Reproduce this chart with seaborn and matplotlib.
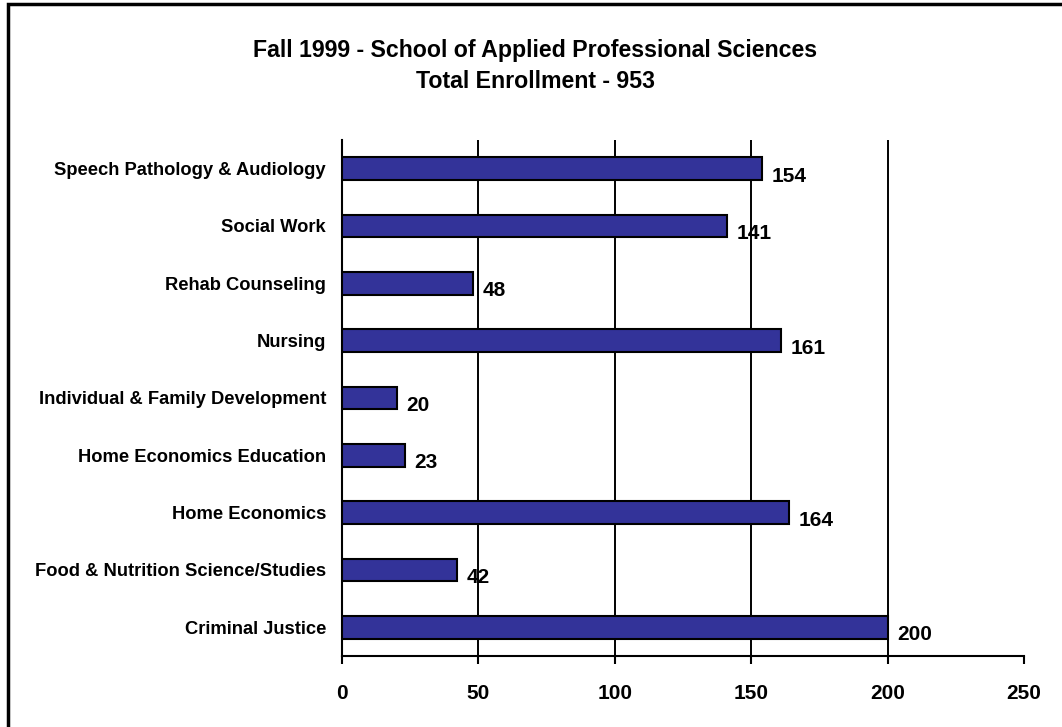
import matplotlib
matplotlib.use("Agg")
import matplotlib.pyplot as plt
import seaborn as sns
import pandas as pd
from matplotlib.patches import Rectangle

programs = [
    "Speech Pathology & Audiology",
    "Social Work",
    "Rehab Counseling",
    "Nursing",
    "Individual & Family Development",
    "Home Economics Education",
    "Home Economics",
    "Food & Nutrition Science/Studies",
    "Criminal Justice",
]
enrollment = [154, 141, 48, 161, 20, 23, 164, 42, 200]
x_ticks = [0, 50, 100, 150, 200, 250]
title_lines = ["Fall 1999 - School of Applied Professional Sciences", "Total Enrollment - 953"]

sns.set_theme(style="white")
plt.rcParams["font.family"] = ["Liberation Sans", "DejaVu Sans"]
plt.rcParams["text.color"] = "black"
plt.rcParams["xtick.labelcolor"] = "black"
plt.rcParams["ytick.labelcolor"] = "black"

df = pd.DataFrame({"program": programs, "enrollment": enrollment})

fig = plt.figure(figsize=(10.62, 7.27), dpi=100)
ax = fig.add_axes([342 / 1062, 1 - 656 / 727, (1024 - 342) / 1062, (656 - 140) / 727])

sns.barplot(data=df, x="enrollment", y="program", orient="h", color="#333399",
            saturation=1, width=0.39, edgecolor="black", linewidth=1.5, ax=ax, zorder=3)

ax.set_xlim(0, 250)
ax.set_ylim(8.5, -0.5)
ax.set_xticks(x_ticks)
ax.set_xticklabels([str(t) for t in x_ticks], fontsize=15, fontweight="bold", color="black")
for lab in ax.get_yticklabels():
    lab.set_fontsize(13.2)
    lab.set_fontweight("bold")
    lab.set_color("black")
ax.set_xlabel("")
ax.set_ylabel("")
for t in x_ticks[1:-1]:
    ax.axvline(t, color="black", linewidth=1.4, zorder=1)

for s in ["top", "right"]:
    ax.spines[s].set_visible(False)
for s in ["left", "bottom"]:
    ax.spines[s].set_color("black")
    ax.spines[s].set_linewidth(1.5)

ax.tick_params(axis="x", direction="out", length=6, width=1.5, color="black", pad=14, bottom=True)
ax.tick_params(axis="y", length=0, pad=11.5)

for i, v in enumerate(enrollment):
    ax.annotate(str(v), xy=(v, i), xytext=(7, -5.5), textcoords="offset points",
                ha="left", va="center", fontsize=15, fontweight="bold", color="black", zorder=4)

fig.text(535 / 1062, 1 - 50 / 727, title_lines[0], ha="center", va="center",
         fontsize=16.7, fontweight="bold", color="black")
fig.text(535 / 1062, 1 - 81 / 727, title_lines[1], ha="center", va="center",
         fontsize=16.7, fontweight="bold", color="black")

fig.patches.append(Rectangle((8 / 1062, -0.05), 1.1, 1 - 4 / 727 + 0.05, transform=fig.transFigure,
                             fill=False, edgecolor="black", linewidth=2.5))

fig.savefig("out.png", dpi=100, facecolor="white")
